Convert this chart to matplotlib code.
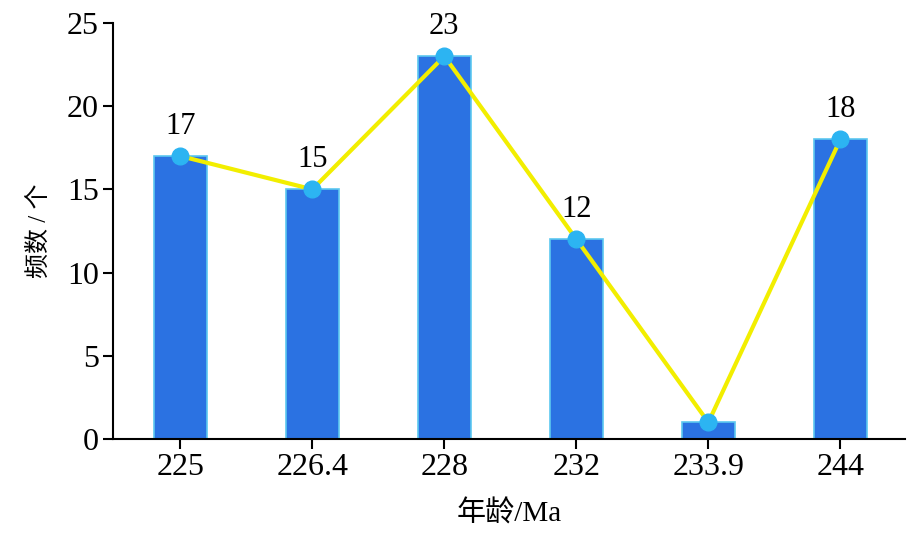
import matplotlib
matplotlib.use('Agg')
from matplotlib import pyplot as plt

ages = ['225', '226.4', '228', '232', '233.9', '244']
counts = [17, 15, 23, 12, 1, 18]
# the reference only labels these points
shown = [True, True, True, True, False, True]

plt.rcParams['font.family'] = ['Liberation Serif', 'Noto Sans CJK SC']

fig = plt.figure(figsize=(9.21, 5.45), dpi=100)
ax = fig.add_axes([0.1227, 0.1945, 0.86, 0.7635])

x = list(range(len(ages)))
ax.bar(x, counts, width=0.4, color='#2b72e2', edgecolor='#5cc8f0', linewidth=1.2, zorder=2)
ax.plot(x, counts, color='#f2ee00', lw=3, marker='o', markersize=12,
        markerfacecolor='#2cb4f2', markeredgecolor='#2cb4f2', zorder=3)
for xi, c, s in zip(x, counts, shown):
    if s:
        ax.annotate(str(c), (xi, c), xytext=(0, 11), textcoords='offset points',
                    ha='center', va='bottom', fontsize=22)

ax.set_xlim(-0.51, 5.49)
ax.set_ylim(0, 25)
ax.set_xticks(x)
ax.set_xticklabels(ages)
ax.set_yticks(range(0, 26, 5))
ax.tick_params(axis='both', labelsize=23, direction='out', length=7, width=1.5, pad=3)
for s in ['top', 'right']:
    ax.spines[s].set_visible(False)
for s in ['left', 'bottom']:
    ax.spines[s].set_linewidth(1.5)

ax.set_xlabel('年龄/Ma', fontsize=21, labelpad=13)
ax.set_ylabel('频数 / 个', fontsize=18, labelpad=12)

fig.savefig('out.png', dpi=100)
